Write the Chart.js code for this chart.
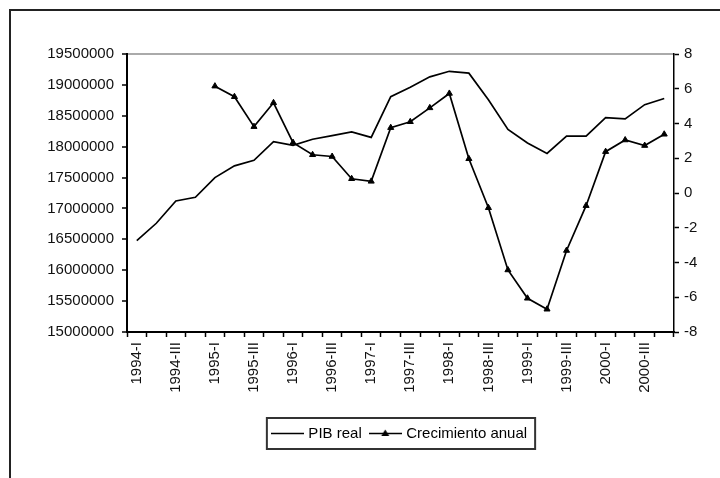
<!DOCTYPE html>
<html>
<head>
<meta charset="utf-8">
<script src="https://cdn.jsdelivr.net/npm/chart.js@4.4.1/dist/chart.umd.min.js"></script>
<style>
  html, body { margin: 0; padding: 0; background: #fff; overflow: hidden; }
  #frame { position: absolute; left: 9px; top: 9px; width: 800px; height: 600px; border: 2px solid #222; }
  canvas { position: absolute; left: 0; top: 0; }
</style>
</head>
<body>
<div id="frame"></div>
<canvas id="pib-chart" width="720" height="478"></canvas>
<script>
// quarters 1994-I .. 2000-IV
var quarters = [
  '1994-I', '1994-II', '1994-III', '1994-IV',
  '1995-I', '1995-II', '1995-III', '1995-IV',
  '1996-I', '1996-II', '1996-III', '1996-IV',
  '1997-I', '1997-II', '1997-III', '1997-IV',
  '1998-I', '1998-II', '1998-III', '1998-IV',
  '1999-I', '1999-II', '1999-III', '1999-IV',
  '2000-I', '2000-II', '2000-III', '2000-IV'
];

var pibReal = [
  16480000, 16760000, 17120000, 17180000,
  17500000, 17690000, 17780000, 18080000,
  18020000, 18120000, 18180000, 18240000,
  18150000, 18810000, 18960000, 19130000,
  19220000, 19190000, 18760000, 18280000,
  18060000, 17890000, 18170000, 18170000,
  18470000, 18450000, 18680000, 18780000
];

var crecimiento = [
  null, null, null, null,
  6.15, 5.54, 3.82, 5.19,
  2.9, 2.2, 2.1, 0.82,
  0.67, 3.76, 4.1, 4.9,
  5.73, 1.97, -0.85, -4.43,
  -6.06, -6.69, -3.31, -0.73,
  2.38, 3.05, 2.73, 3.38
];

var leftTicks = [15000000, 19500000, 500000];  // min, max, step
var rightTicks = [-8, 8, 2];

Chart.defaults.font.family = 'Arial, "Liberation Sans", sans-serif';
Chart.defaults.font.size = 15;
Chart.defaults.color = '#111';

// little legend swatches: plain line, and line with a triangle
function swatch(withMarker) {
  var c = document.createElement('canvas');
  c.width = 33; c.height = 15;
  var g = c.getContext('2d');
  g.strokeStyle = '#000';
  g.lineWidth = 1.6;
  g.beginPath(); g.moveTo(0, 7.5); g.lineTo(33, 7.5); g.stroke();
  if (withMarker) {
    g.fillStyle = '#000';
    g.beginPath(); g.moveTo(16.5, 3.5); g.lineTo(20.5, 10); g.lineTo(12.5, 10); g.closePath(); g.fill();
  }
  return c;
}

var legendBox = {
  id: 'legendBox',
  afterDraw: function(chart) {
    var boxes = chart.legend.legendHitBoxes;
    if (!boxes || !boxes.length) return;
    var first = boxes[0], last = boxes[boxes.length - 1];
    var ctx = chart.ctx;
    ctx.save();
    ctx.strokeStyle = '#333';
    ctx.lineWidth = 2;
    ctx.strokeRect(first.left - 7, first.top - 8, last.left + last.width - first.left + 15, 31);
    ctx.restore();
  }
};

var ctx = document.getElementById('pib-chart').getContext('2d');

var data = {
  labels: quarters,
  datasets: [{
    label: 'PIB real',
    data: pibReal,
    yAxisID: 'y',
    borderColor: '#000',
    borderWidth: 1.7,
    pointRadius: 0,
    tension: 0
  }, {
    label: 'Crecimiento anual',
    data: crecimiento,
    yAxisID: 'y1',
    borderColor: '#000',
    borderWidth: 1.7,
    pointStyle: 'triangle',
    pointRadius: 3.5,
    pointBackgroundColor: '#000',
    pointBorderColor: '#000',
    pointBorderWidth: 1,
    tension: 0
  }]
};

var myChart = new Chart(ctx, {
  type: 'line',
  data: data,
  plugins: [legendBox],
  options: {
    responsive: false,
    animation: false,
    layout: { padding: { top: 54, left: 0, right: 0, bottom: 27 } },
    plugins: {
      tooltip: { enabled: false },
      legend: {
        position: 'bottom',
        fullSize: false,
        labels: {
          usePointStyle: true,
          pointStyleWidth: 27,
          padding: 10,
          color: '#111',
          generateLabels: function(chart) {
            return chart.data.datasets.map(function(ds, i) {
              return {
                text: ds.label,
                datasetIndex: i,
                pointStyle: swatch(i === 1),
                fillStyle: '#000',
                strokeStyle: '#000',
                lineWidth: 0,
                hidden: false
              };
            });
          }
        }
      }
    },
    scales: {
      x: {
        offset: true,
        grid: { offset: true, drawOnChartArea: false, tickLength: 5, tickColor: '#000', tickWidth: 1.5 },
        border: { color: '#000', width: 2 },
        ticks: {
          autoSkip: false,
          maxRotation: 90,
          minRotation: 90,
          padding: 5,
          callback: function(val, i) { return i % 2 === 0 ? this.getLabelForValue(val) : ''; }
        },
        afterFit: function(scale) { scale.height = 84; }
      },
      y: {
        position: 'left',
        min: leftTicks[0],
        max: leftTicks[1],
        grid: {
          drawOnChartArea: true,
          color: function(c) { return c.tick && c.tick.value === leftTicks[1] ? '#aaa' : 'rgba(0,0,0,0)'; },
          lineWidth: 2,
          tickLength: 5,
          tickColor: '#000',
          tickWidth: 1.5
        },
        border: { color: '#000', width: 2 },
        ticks: {
          stepSize: leftTicks[2],
          padding: 8,
          callback: function(v) { return String(v); }
        },
        afterFit: function(scale) { scale.width = 127; }
      },
      y1: {
        position: 'right',
        min: rightTicks[0],
        max: rightTicks[1],
        grid: { drawOnChartArea: false, tickLength: 5, tickColor: '#000', tickWidth: 1.5 },
        border: { color: '#000', width: 1.5 },
        ticks: {
          stepSize: rightTicks[2],
          padding: 5
        },
        afterFit: function(scale) { scale.width = 46; }
      }
    }
  }
});
</script>
</body>
</html>
